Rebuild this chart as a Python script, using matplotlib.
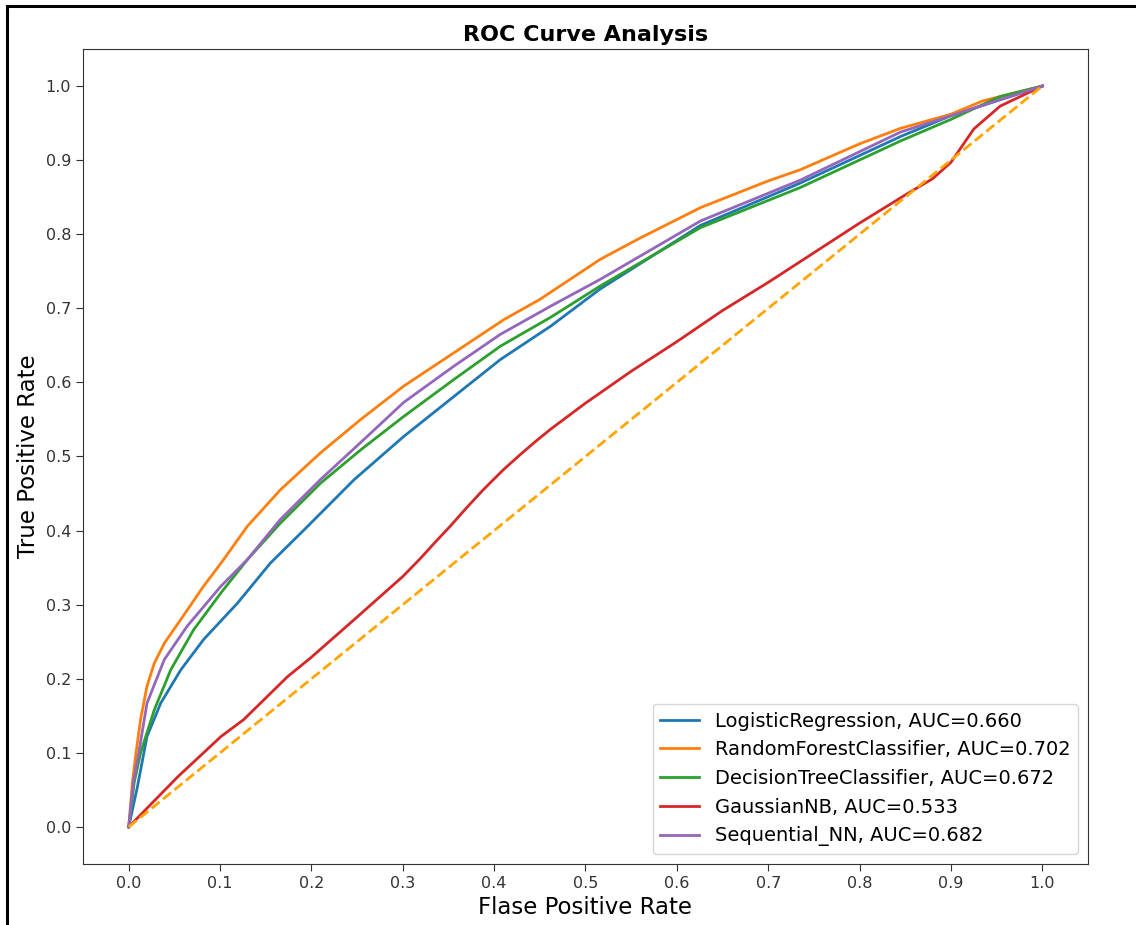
import matplotlib
matplotlib.use("Agg")
import matplotlib.pyplot as plt
import numpy as np
from matplotlib.lines import Line2D

# ROC points per model (false positive rate, true positive rate)
lr_fpr = [0, 0.0095, 0.02, 0.035, 0.057, 0.082, 0.119, 0.155, 0.192, 0.247, 0.301, 0.356, 0.407, 0.462, 0.516, 0.626, 0.735, 0.845, 0.9, 1.0]
lr_tpr = [0, 0.054, 0.122, 0.167, 0.212, 0.253, 0.302, 0.356, 0.401, 0.469, 0.527, 0.581, 0.631, 0.676, 0.726, 0.812, 0.869, 0.932, 0.96, 1.0]

rf_fpr = [0, 0.004, 0.008, 0.013, 0.020, 0.028, 0.039, 0.057, 0.082, 0.101, 0.13, 0.166, 0.21, 0.254, 0.301, 0.356, 0.411, 0.45, 0.516, 0.56, 0.626, 0.7, 0.735, 0.8, 0.845, 0.9, 0.935, 1.0]
rf_tpr = [0, 0.06, 0.10, 0.145, 0.19, 0.221, 0.248, 0.28, 0.325, 0.356, 0.406, 0.455, 0.505, 0.55, 0.595, 0.64, 0.685, 0.712, 0.766, 0.795, 0.836, 0.872, 0.887, 0.922, 0.943, 0.962, 0.98, 1.0]

dt_fpr = [0, 0.006, 0.013, 0.028, 0.046, 0.071, 0.101, 0.13, 0.166, 0.21, 0.254, 0.301, 0.356, 0.407, 0.462, 0.516, 0.626, 0.735, 0.845, 0.9, 0.954, 1.0]
dt_tpr = [0, 0.06, 0.10, 0.158, 0.212, 0.266, 0.316, 0.361, 0.41, 0.464, 0.509, 0.554, 0.604, 0.649, 0.688, 0.73, 0.809, 0.863, 0.926, 0.955, 0.986, 1.0]

nb_fpr = [0, 0.054, 0.101, 0.126, 0.174, 0.199, 0.247, 0.268, 0.3, 0.319, 0.336, 0.352, 0.37, 0.388, 0.41, 0.429, 0.445, 0.462, 0.5, 0.55, 0.6, 0.65, 0.7, 0.75, 0.8, 0.85, 0.88, 0.9, 0.925, 0.954, 1.0]
nb_tpr = [0, 0.068, 0.122, 0.145, 0.203, 0.228, 0.28, 0.303, 0.338, 0.362, 0.385, 0.406, 0.431, 0.455, 0.482, 0.503, 0.52, 0.537, 0.572, 0.615, 0.655, 0.697, 0.735, 0.775, 0.815, 0.853, 0.875, 0.897, 0.942, 0.973, 1.0]

nn_fpr = [0, 0.005, 0.011, 0.020, 0.039, 0.064, 0.101, 0.13, 0.166, 0.21, 0.254, 0.301, 0.356, 0.407, 0.462, 0.516, 0.626, 0.735, 0.845, 0.9, 1.0]
nn_tpr = [0, 0.06, 0.10, 0.167, 0.226, 0.271, 0.325, 0.361, 0.415, 0.469, 0.519, 0.573, 0.622, 0.665, 0.703, 0.739, 0.818, 0.873, 0.938, 0.96, 1.0]

models = ["LogisticRegression", "RandomForestClassifier", "DecisionTreeClassifier", "GaussianNB", "Sequential_NN"]
aucs = [0.660, 0.702, 0.672, 0.533, 0.682]
curves = [(lr_fpr, lr_tpr), (rf_fpr, rf_tpr), (dt_fpr, dt_tpr), (nb_fpr, nb_tpr), (nn_fpr, nn_tpr)]


def main():
    fig = plt.figure(figsize=(11.36, 9.25), dpi=100)
    ax = fig.add_axes([0.0731, 0.066, 0.8846, 0.881])

    for name, auc, (fpr, tpr) in zip(models, aucs, curves):
        ax.plot(fpr, tpr, lw=2, label="{}, AUC={:.3f}".format(name, auc))

    ax.plot([0, 1], [0, 1], color="orange", linestyle="--", lw=2)

    ax.set_xticks(np.arange(0.0, 1.1, step=0.1))
    ax.set_yticks(np.arange(0.0, 1.1, step=0.1))
    ax.tick_params(labelsize=11.5, length=5, colors="#333333")
    for spine in ax.spines.values():
        spine.set_color("#333333")
    ax.set_xlabel("Flase Positive Rate", fontsize=16.5)
    ax.set_ylabel("True Positive Rate", fontsize=16.5)
    ax.set_title("ROC Curve Analysis", fontweight="bold", fontsize=16)
    ax.legend(prop={"size": 14}, loc="lower right")

    # black frame along the top and left of the canvas
    fig.add_artist(Line2D([0.0062, 1.0], [0.9935, 0.9935], color="black", lw=2.2, transform=fig.transFigure))
    fig.add_artist(Line2D([0.0062, 0.0062], [0.0, 0.9935], color="black", lw=2.2, transform=fig.transFigure))

    fig.savefig("out.png", dpi=100)
    plt.close(fig)


if __name__ == "__main__":
    main()
